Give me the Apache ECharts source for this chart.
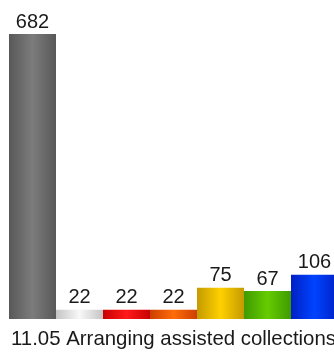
<!DOCTYPE html>
<html>
<head>
<meta charset="utf-8">
<script src="https://cdn.jsdelivr.net/npm/echarts@6/dist/echarts.min.js"></script>
<style>
  html, body { margin: 0; padding: 0; background: #ffffff; }
  #chart { width: 334px; height: 356px; }
</style>
</head>
<body>
<div id="chart"></div>
<script>
// One category, one bar per group, drawn side by side with no gaps
const categories = ['11.05 Arranging assisted collections'];
const seriesNames = ['Group 1', 'Group 2', 'Group 3', 'Group 4', 'Group 5', 'Group 6', 'Group 7'];
const seriesValues = [682, 22, 22, 22, 75, 67, 106];

// Cylinder-like shading: [edge colour, centre colour]
const barShades = [
  ['#585858', '#7c7c7c'],
  ['#c4c4c4', '#f8f8f8'],
  ['#c80000', '#ff1a1a'],
  ['#cc3f00', '#ff6c0a'],
  ['#c49a00', '#ffd000'],
  ['#3f9a00', '#66cc00'],
  ['#0020c4', '#0044ff']
];

function shade(pair) {
  return new echarts.graphic.LinearGradient(0, 0, 1, 0, [
    { offset: 0, color: pair[0] },
    { offset: 0.5, color: pair[1] },
    { offset: 1, color: pair[0] }
  ]);
}

const chart = echarts.init(document.getElementById('chart'), null, { renderer: 'canvas' });

chart.setOption({
  animation: false,
  grid: {
    left: 9, width: 329, top: 34, bottom: 37,
    containLabel: false,
    outerBoundsMode: 'none'
  },
  xAxis: {
    type: 'category',
    data: categories,
    axisLine: { show: false },
    axisTick: { show: false },
    axisLabel: {
      color: '#1a1a1a',
      fontFamily: 'Liberation Sans, Arial, sans-serif',
      fontSize: 20.4,
      margin: 10
    }
  },
  yAxis: {
    type: 'value',
    min: 0,
    max: 682,
    show: false,
    splitLine: { show: false }
  },
  series: seriesNames.map((name, i) => ({
    name: name,
    type: 'bar',
    data: [seriesValues[i]],
    barGap: '0%',
    barCategoryGap: '0%',
    itemStyle: { color: shade(barShades[i]) },
    label: {
      show: true,
      position: 'top',
      distance: 2,
      color: '#1a1a1a',
      fontFamily: 'Liberation Sans, Arial, sans-serif',
      fontSize: 20
    }
  }))
});
</script>
</body>
</html>
